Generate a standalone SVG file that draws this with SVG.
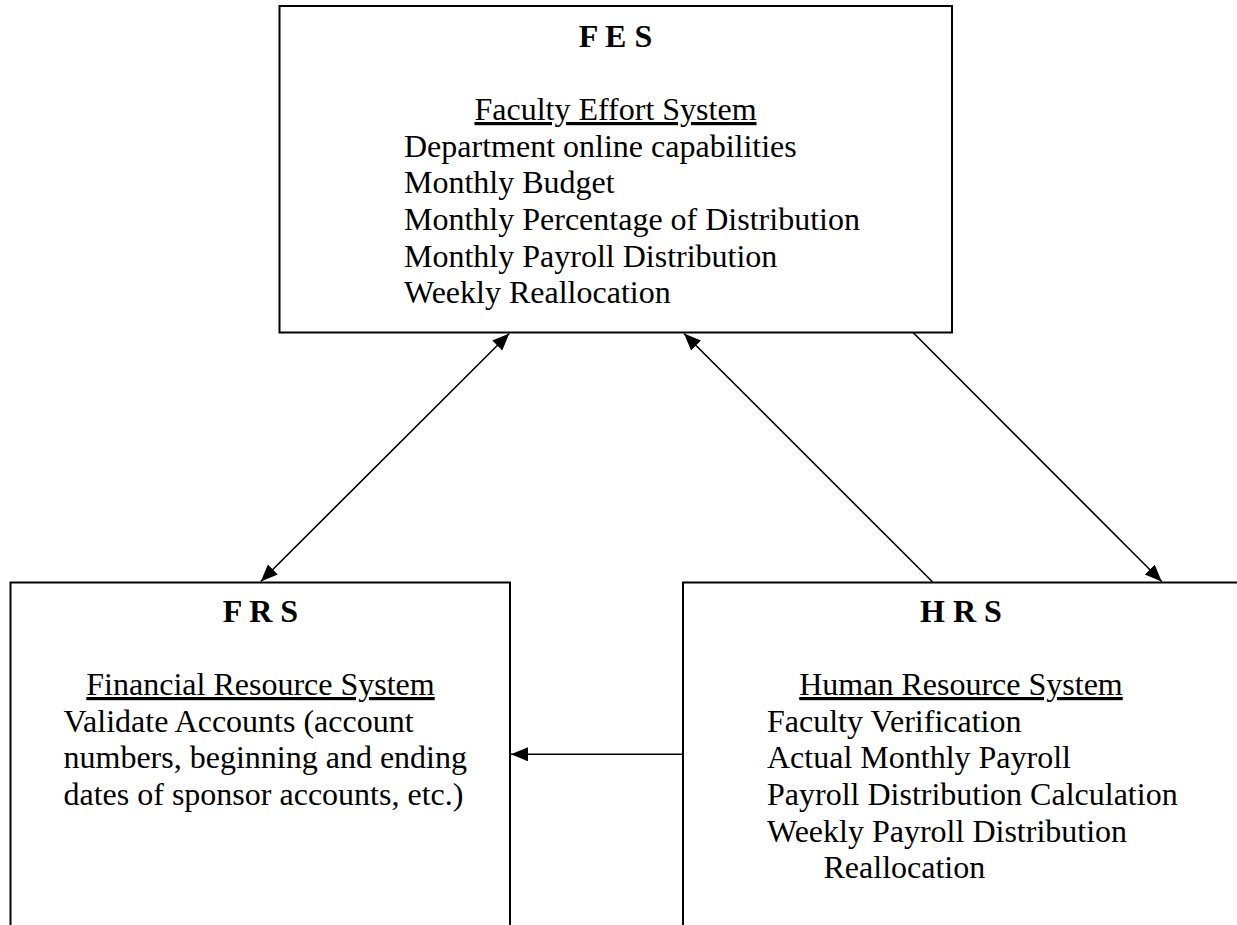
<svg xmlns="http://www.w3.org/2000/svg" width="1237" height="925" viewBox="0 0 1237 925">
  <style>
    .box { fill: #ffffff; stroke: #000000; stroke-width: 2; }
    .t { font-family: "Liberation Serif", "Times New Roman", serif; font-size: 32px; fill: #000000; }
    .title { font-weight: bold; text-anchor: middle; }
    .sub { text-anchor: middle; text-decoration: underline; }
    .conn { stroke: #000000; stroke-width: 1.6; fill: none; }
  </style>
  <defs>
    <marker id="arrow" markerUnits="userSpaceOnUse" markerWidth="18" markerHeight="15" refX="17" refY="7" orient="auto-start-reverse" viewBox="0 0 18 15">
      <path d="M0,0 L17,7 L0,14 z" fill="#000000"/>
    </marker>
  </defs>
  <rect width="1237" height="925" fill="#ffffff"/>

  <g id="FES">
    <rect class="box" x="279.5" y="6" width="672.5" height="326.5"/>
    <text class="t title" x="615.5" y="46.5">F E S</text>
    <text class="t sub" x="615.5" y="120">Faculty Effort System</text>
    <text class="t" x="404" y="156.7">Department online capabilities</text>
    <text class="t" x="404" y="193.3">Monthly Budget</text>
    <text class="t" x="404" y="230">Monthly Percentage of Distribution</text>
    <text class="t" x="404" y="266.7">Monthly Payroll Distribution</text>
    <text class="t" x="404" y="303.3">Weekly Reallocation</text>
  </g>

  <g id="FRS">
    <rect class="box" x="10.5" y="582.5" width="499.5" height="360"/>
    <text class="t title" x="260.5" y="621.7">F R S</text>
    <text class="t sub" x="260.5" y="695">Financial Resource System</text>
    <text class="t" x="63.5" y="731.7">Validate Accounts (account</text>
    <text class="t" x="63.5" y="768.3">numbers, beginning and ending</text>
    <text class="t" x="63.5" y="805">dates of sponsor accounts, etc.)</text>
  </g>

  <g id="HRS">
    <rect class="box" x="683" y="582.5" width="557" height="360"/>
    <text class="t title" x="961" y="621.7">H R S</text>
    <text class="t sub" x="961" y="695">Human Resource System</text>
    <text class="t" x="767" y="731.7">Faculty Verification</text>
    <text class="t" x="767" y="768.3">Actual Monthly Payroll</text>
    <text class="t" x="767" y="805">Payroll Distribution Calculation</text>
    <text class="t" x="767" y="841.7">Weekly Payroll Distribution</text>
    <text class="t" x="823.5" y="878.3">Reallocation</text>
  </g>

  <g id="connectors">
    <line class="conn" x1="509.3" y1="333.5" x2="260.8" y2="581.5" marker-start="url(#arrow)" marker-end="url(#arrow)"/>
    <line class="conn" x1="932.4" y1="581.7" x2="684" y2="333.5" marker-end="url(#arrow)"/>
    <line class="conn" x1="913" y1="332.5" x2="1161.7" y2="581.5" marker-end="url(#arrow)"/>
    <line class="conn" x1="683" y1="754.3" x2="511" y2="754.3" marker-end="url(#arrow)"/>
  </g>
</svg>
